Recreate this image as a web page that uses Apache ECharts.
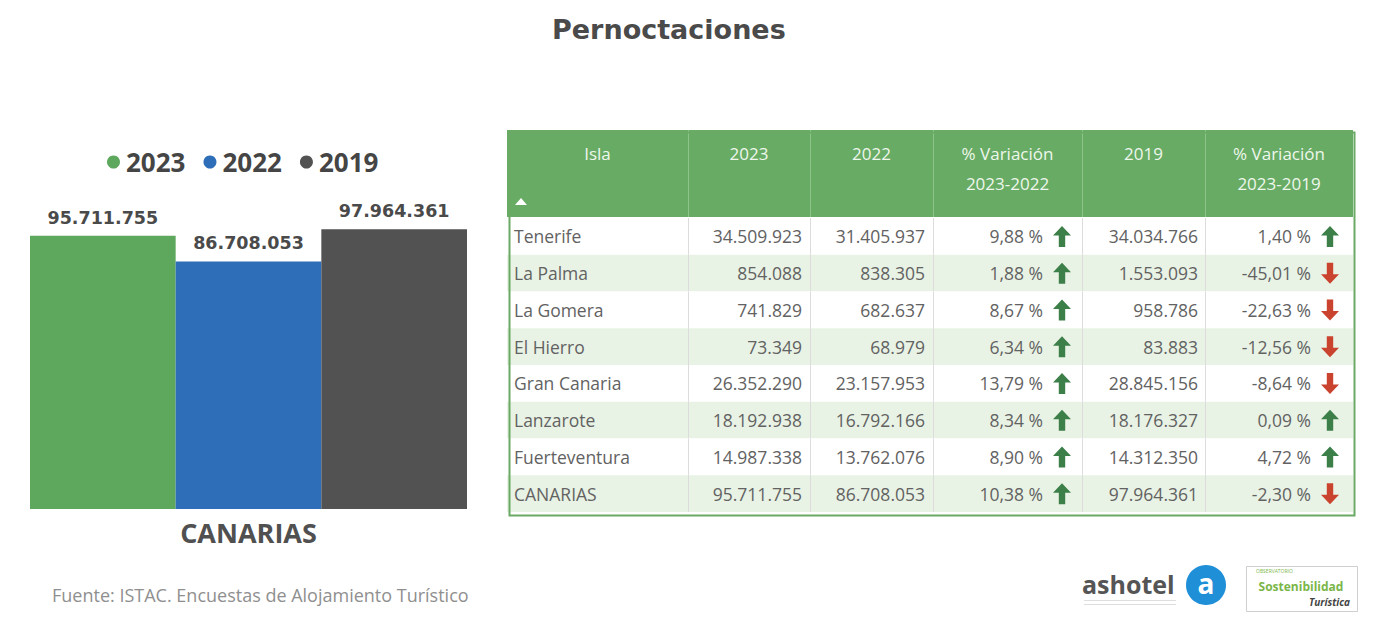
<!DOCTYPE html>
<html>
<head>
<meta charset="utf-8">
<script src="https://cdn.jsdelivr.net/npm/echarts@6/dist/echarts.min.js"></script>
<style>
html,body{margin:0;padding:0;background:#fff;}
#chart{width:1376px;height:626px;}
</style>
</head>
<body>
<div id="chart"></div>
<script>
// ---- Data ----
const barCategories = ['CANARIAS'];
const barYears = ['2023', '2022', '2019'];
const total2023 = [95711755];
const total2022 = [86708053];
const total2019 = [97964361];

const islands = ['Tenerife', 'La Palma', 'La Gomera', 'El Hierro', 'Gran Canaria', 'Lanzarote', 'Fuerteventura', 'CANARIAS'];
const v2023 = [34509923, 854088, 741829, 73349, 26352290, 18192938, 14987338, 95711755];
const v2022 = [31405937, 838305, 682637, 68979, 23157953, 16792166, 13762076, 86708053];
const var2322 = [9.88, 1.88, 8.67, 6.34, 13.79, 8.34, 8.90, 10.38];
const v2019 = [34034766, 1553093, 958786, 83883, 28845156, 18176327, 14312350, 97964361];
const var2319 = [1.40, -45.01, -22.63, -12.56, -8.64, 0.09, 4.72, -2.30];
const tableHeaders = ['Isla', '2023', '2022', '% Variación\n2023-2022', '2019', '% Variación\n2023-2019'];

// ---- Helpers ----
function fmtInt(n) { return String(n).replace(/\B(?=(\d{3})+(?!\d))/g, '.'); }
function fmtPct(p) { return p.toFixed(2).replace('.', ',') + ' %'; }

// ---- Layout (not data) ----
const TBL_LEFT = 507, TBL_TOP = 130, TBL_W = 846, HDR_H = 87, BODY_TOP = 218, BODY_BOTTOM = 512;
const colEdges = [0, 181, 303, 426, 575, 698, 846];
const GREEN = '#5ea85e', BLUE = '#2e6eb8', GRAY = '#525252';
const HDR_GREEN = '#68ab64';
const TXT = '#626262';
const UP = '#3d7f48', DOWN = '#c9432f';

const chart = echarts.init(document.getElementById('chart'), null, { renderer: 'svg' });

function arrow(cx, cy, up, color) {
  const s = up ? 1 : -1;
  const pts = [[0, -10.5], [9, -1], [3.2, -1], [3.2, 10.5], [-3.2, 10.5], [-3.2, -1], [-9, -1]]
    .map(p => [cx + p[0], cy + s * p[1]]);
  return { type: 'polygon', shape: { points: pts }, style: { fill: color } };
}

function renderRow(params, api) {
  const i = params.dataIndex;
  const p = api.coord([0, i]);
  const h = api.size([0, 1])[1];
  const x0 = p[0], yc = p[1], top = yc - h / 2;
  const sx = v => api.coord([v, i])[0];
  const W = sx(colEdges[6]) - x0;
  const font = '17.5px "Open Sans"';
  const children = [];
  children.push({ type: 'rect', shape: { x: x0, y: top, width: W, height: h },
    style: { fill: i % 2 ? '#e9f3e5' : '#ffffff' } });
  for (let c = 1; c < 6; c++) {
    const x = Math.round(sx(colEdges[c])) + 0.5;
    children.push({ type: 'line', shape: { x1: x, y1: top, x2: x, y2: top + h },
      style: { stroke: '#dcdcdc', lineWidth: 1 } });
  }
  const txt = (x, s, align) => ({ type: 'text', x: x, y: yc,
    style: { text: s, font: font, fill: TXT, align: align, verticalAlign: 'middle' } });
  children.push(txt(sx(colEdges[0] + 7), islands[i], 'left'));
  children.push(txt(sx(colEdges[2] - 8), fmtInt(v2023[i]), 'right'));
  children.push(txt(sx(colEdges[3] - 8), fmtInt(v2022[i]), 'right'));
  children.push(txt(sx(colEdges[4] - 39), fmtPct(var2322[i]), 'right'));
  children.push(arrow(sx(colEdges[4] - 20), yc, var2322[i] >= 0, var2322[i] >= 0 ? UP : DOWN));
  children.push(txt(sx(colEdges[5] - 7), fmtInt(v2019[i]), 'right'));
  children.push(txt(sx(colEdges[6] - 42), fmtPct(var2319[i]), 'right'));
  children.push(arrow(sx(colEdges[6] - 23), yc, var2319[i] >= 0, var2319[i] >= 0 ? UP : DOWN));
  return { type: 'group', children: children };
}

// header graphics
const headerEls = [];
headerEls.push({ type: 'rect', left: TBL_LEFT, top: TBL_TOP, shape: { width: TBL_W, height: HDR_H },
  style: { fill: HDR_GREEN }, z: 50 });
for (let c = 1; c < 6; c++) {
  headerEls.push({ type: 'rect', left: TBL_LEFT + colEdges[c], top: TBL_TOP,
    shape: { width: 1, height: HDR_H }, style: { fill: '#8cc489' }, z: 51 });
}
for (let c = 0; c < 6; c++) {
  const cx = TBL_LEFT + (colEdges[c] + colEdges[c + 1]) / 2;
  headerEls.push({ type: 'text', x: cx, y: 138, z: 52,
    style: { text: tableHeaders[c], font: '17px "Open Sans"', fill: '#eef7ec', align: 'center',
      verticalAlign: 'top', lineHeight: 30 } });
}
headerEls.push({ type: 'polygon', z: 52, shape: { points: [[515, 205], [527, 205], [521, 198]] },
  style: { fill: '#ffffff' } });
// table border
headerEls.push({ type: 'rect', left: TBL_LEFT, top: TBL_TOP, z: 60,
  shape: { width: TBL_W - 1, height: BODY_BOTTOM - TBL_TOP + 1 },
  style: { fill: 'none', stroke: '#6aaa64', lineWidth: 2 } });

// footer & logos
const footerEls = [
  { type: 'text', x: 52, y: 595, style: { text: 'Fuente: ISTAC. Encuestas de Alojamiento Turístico',
    font: '18px "Open Sans"', fill: '#8f8f8f', verticalAlign: 'middle' } },
  { type: 'text', x: 1082, y: 584, style: { text: 'ashotel', font: 'bold 25px "Open Sans"', fill: '#555555',
    verticalAlign: 'middle' } },
  { type: 'rect', shape: { x: 1084, y: 600, width: 92, height: 1 }, style: { fill: '#dedede' } },
  { type: 'rect', shape: { x: 1084, y: 604, width: 92, height: 1 }, style: { fill: '#dedede' } },
  { type: 'circle', shape: { cx: 1206, cy: 585, r: 20 }, style: { fill: '#1f8fd8' } },
  { type: 'text', x: 1206, y: 583, style: { text: 'a', font: 'bold 28px "Open Sans"', fill: '#ffffff',
    align: 'center', verticalAlign: 'middle' } },
  { type: 'rect', shape: { x: 1246.5, y: 566.5, width: 111, height: 45 },
    style: { fill: 'none', stroke: '#cfcfcf', lineWidth: 1 } },
  { type: 'text', x: 1256, y: 571, style: { text: 'OBSERVATORIO', font: '5px "Open Sans"', fill: '#7ab648',
    verticalAlign: 'middle' } },
  { type: 'text', x: 1301, y: 586, style: { text: 'Sostenibilidad', font: 'bold 12px "Open Sans"',
    fill: '#7ab648', align: 'center', verticalAlign: 'middle' } },
  { type: 'text', x: 1350, y: 602, style: { text: 'Turística', font: 'italic bold 10px "Open Sans"',
    fill: '#444444', align: 'right', verticalAlign: 'middle' } }
];

const labelStyle = { show: true, position: 'top', distance: 9, formatter: p => fmtInt(p.value),
  fontFamily: 'DejaVu Sans', fontWeight: 'bold', fontSize: 17.5, color: '#4a4a4a' };

chart.setOption({
  animation: false,
  title: { text: 'Pernoctaciones', left: 547, top: 11,
    textStyle: { fontFamily: 'DejaVu Sans', fontWeight: 'bold', fontSize: 27, color: '#4a4a4a' } },
  legend: { left: 102, top: 144, icon: 'circle', itemWidth: 13, itemHeight: 13, itemGap: 18,
    data: barYears,
    textStyle: { fontFamily: 'Open Sans', fontWeight: 'bold', fontSize: 26, color: '#454545', padding: [0, 0, 0, 1] } },
  grid: [
    { left: 30, top: 195, width: 437, height: 314 },
    { left: TBL_LEFT, top: BODY_TOP, width: TBL_W, height: BODY_BOTTOM - BODY_TOP }
  ],
  xAxis: [
    { type: 'category', gridIndex: 0, data: barCategories,
      axisLine: { show: false }, axisTick: { show: false },
      axisLabel: { margin: 10, fontFamily: 'Open Sans', fontWeight: 'bold', fontSize: 27, color: '#505050' } },
    { type: 'value', gridIndex: 1, min: 0, max: colEdges[6], show: false }
  ],
  yAxis: [
    { type: 'value', gridIndex: 0, min: 0, max: 110000000, show: false, splitLine: { show: false } },
    { type: 'category', gridIndex: 1, data: islands, inverse: true, show: false }
  ],
  series: [
    { name: '2023', type: 'bar', data: total2023, itemStyle: { color: GREEN },
      barGap: '0%', barCategoryGap: '0%', label: labelStyle },
    { name: '2022', type: 'bar', data: total2022, itemStyle: { color: BLUE },
      barGap: '0%', barCategoryGap: '0%', label: labelStyle },
    { name: '2019', type: 'bar', data: total2019, itemStyle: { color: GRAY },
      barGap: '0%', barCategoryGap: '0%', label: labelStyle },
    { type: 'custom', xAxisIndex: 1, yAxisIndex: 1, data: islands.map((n, i) => [0, i]),
      encode: { x: 0, y: 1 }, renderItem: renderRow, silent: true }
  ],
  graphic: headerEls.concat(footerEls)
});
</script>
</body>
</html>
